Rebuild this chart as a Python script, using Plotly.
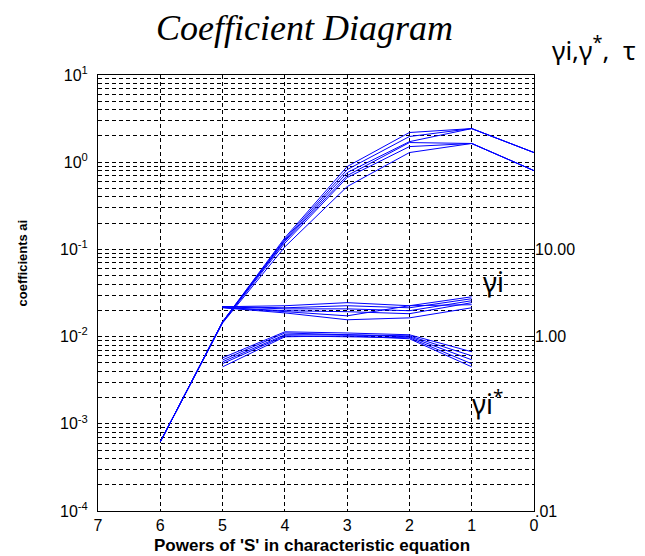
import plotly.graph_objects as go

# ---------------- data ----------------
powers_a = [6, 5, 4, 3, 2, 1, 0]
coef_series = [
    [6.2e-4, 0.0148, 0.136, 0.891, 2.19, 2.43, 1.29],
    [6.2e-4, 0.0148, 0.131, 0.822, 1.97, 2.43, 1.29],
    [6.2e-4, 0.0146, 0.127, 0.760, 1.72, 2.43, 1.29],
    [6.2e-4, 0.0148, 0.124, 0.702, 1.68, 1.64, 0.80],
    [6.2e-4, 0.0145, 0.118, 0.666, 1.51, 1.64, 0.80],
    [6.2e-4, 0.0143, 0.107, 0.525, 1.29, 1.64, 0.80],
]

powers_g = [5, 4, 3, 2, 1]
gamma_series = [
    [2.20, 2.26, 2.45, 2.26, 2.86],
    [2.20, 2.14, 2.26, 2.14, 2.72],
    [2.20, 2.08, 2.08, 1.98, 2.58],
    [2.16, 1.98, 1.93, 1.83, 2.45],
    [2.16, 1.93, 1.73, 2.26, 2.32],
    [2.14, 1.87, 1.56, 1.64, 2.14],
]
gamma_star_series = [
    [0.571, 1.135, 1.10, 1.05, 0.670],
    [0.540, 1.10, 1.05, 1.02, 0.602],
    [0.514, 1.05, 1.05, 0.995, 0.542],
    [0.490, 1.02, 0.995, 0.97, 0.488],
    [0.450, 0.995, 1.02, 0.944, 0.450],
]

x_ticks = [7, 6, 5, 4, 3, 2, 1, 0]
y_left_ticks = [1e-4, 1e-3, 1e-2, 1e-1, 1e0, 1e1]
y_left_text = ["10<sup>-4</sup>", "10<sup>-3</sup>", "10<sup>-2</sup>",
               "10<sup>-1</sup>", "10<sup>0</sup>", "10<sup>1</sup>"]
y_left_minor = [m * 10.0 ** e for e in range(-4, 1) for m in range(2, 10)]
y_right_ticks = [0.01, 1, 10]
y_right_text = [".01", "1.00", "10.00"]

BLUE = "#0000FF"
fig = go.Figure()
for s in coef_series:
    fig.add_trace(go.Scatter(x=powers_a, y=s, mode="lines",
                             line=dict(color=BLUE, width=1), showlegend=False))
for s in gamma_series:
    fig.add_trace(go.Scatter(x=powers_g, y=s, mode="lines", yaxis="y2",
                             line=dict(color=BLUE, width=1), showlegend=False))
for s in gamma_star_series:
    fig.add_trace(go.Scatter(x=powers_g, y=s, mode="lines", yaxis="y2",
                             line=dict(color=BLUE, width=1), showlegend=False))

GRID = dict(showgrid=True, gridcolor="black", gridwidth=1, griddash="4px,3px")
tickfont = dict(family="Liberation Sans, Arial", size=16, color="black")

fig.update_layout(
    width=645, height=556,
    margin=dict(l=98, r=111, t=75, b=45),
    paper_bgcolor="white", plot_bgcolor="white",
    xaxis=dict(range=[7, 0], tickmode="array", tickvals=x_ticks,
               ticktext=[str(v) for v in x_ticks], zeroline=False,
               showline=True, linecolor="black", linewidth=1, mirror=True,
               ticks="", tickfont=tickfont, **GRID),
    yaxis=dict(type="log", range=[-4, 1], tickmode="array",
               tickvals=y_left_ticks, ticktext=y_left_text, zeroline=False,
               showline=True, linecolor="black", linewidth=1, mirror=True,
               ticks="", ticklabelstandoff=6,
               tickfont=dict(family="Liberation Sans, Arial", size=16, color="black"),
               minor=dict(tickmode="array", tickvals=y_left_minor, ticks="",
                          showgrid=True, gridcolor="black", gridwidth=1,
                          griddash="4px,3px"),
               **GRID),
    yaxis2=dict(type="log", range=[-2, 3], overlaying="y", side="right",
                tickmode="array", tickvals=y_right_ticks, ticktext=y_right_text,
                showgrid=False, zeroline=False, ticks="inside", ticklen=5,
                tickcolor="black", tickfont=dict(family="Liberation Sans, Arial", size=16, color="black")),
)

ann = []
ann.append(dict(text="Coefficient Diagram", x=0.4725, y=1.108, xref="paper", yref="paper",
                showarrow=False, xanchor="center", yanchor="middle",
                font=dict(family="Liberation Serif", size=36, color="black", style="italic")))
ann.append(dict(text="γi,γ<sup>*</sup>,  τ", x=1.137, y=1.0586, xref="paper", yref="paper",
                showarrow=False, xanchor="center", yanchor="middle",
                font=dict(family="Noto Sans", size=26, color="black")))
ann.append(dict(text="γi", x=0.908, y=0.526, xref="paper", yref="paper",
                showarrow=False, xanchor="center", yanchor="middle",
                font=dict(family="Noto Sans", size=27, color="black")))
ann.append(dict(text="γi<sup>*</sup>", x=0.894, y=0.248, xref="paper", yref="paper",
                showarrow=False, xanchor="center", yanchor="middle",
                font=dict(family="Noto Sans", size=27, color="black")))
ann.append(dict(text="<b>coefficients ai</b>", x=-0.173, y=0.569, xref="paper", yref="paper",
                showarrow=False, xanchor="center", yanchor="middle", textangle=-90,
                font=dict(family="Liberation Sans, Arial", size=13, color="black")))
ann.append(dict(text="<b>Powers of 'S' in characteristic equation</b>", x=0.491, y=-0.079,
                xref="paper", yref="paper", showarrow=False, xanchor="center", yanchor="middle",
                font=dict(family="Liberation Sans, Arial", size=17, color="black")))
fig.update_layout(annotations=ann)

fig.write_html("out.html")
